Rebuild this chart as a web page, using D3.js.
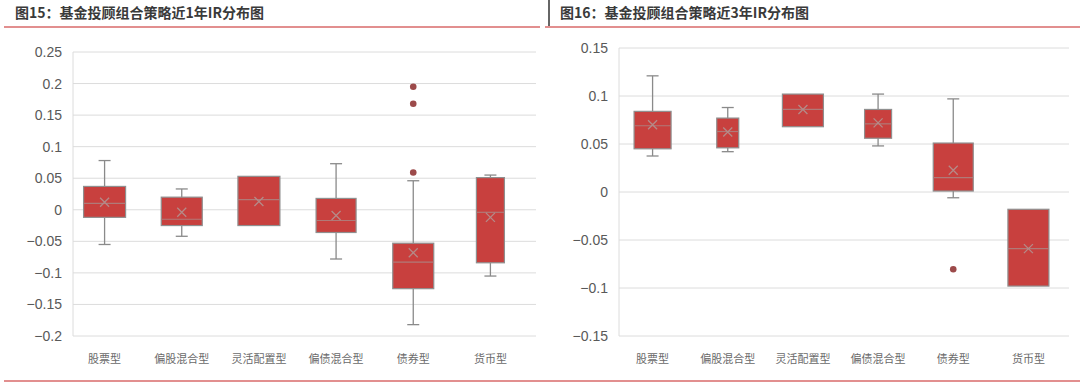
<!DOCTYPE html>
<html lang="zh">
<head>
<meta charset="UTF-8">
<title>IR分布图</title>
<script src="https://cdn.jsdelivr.net/npm/d3@7/dist/d3.min.js"></script>
<style>
  body { margin: 0; background: #fff; }
  svg { display: block; font-family: "Liberation Sans", "Noto Sans CJK SC", sans-serif; }
</style>
</head>
<body>
<svg id="mainsvg" width="1080" height="383"></svg>
<script>
// categories
const categories = ["股票型", "偏股混合型", "灵活配置型", "偏债混合型", "债券型", "货币型"];

// 近1年: [whisker low, q1, median, q3, whisker high], mean, outliers
const box1y = [
  [-0.055, -0.012, 0.010, 0.037, 0.078],
  [-0.042, -0.025, -0.015, 0.020, 0.033],
  [-0.025, -0.025, 0.016, 0.053, 0.053],
  [-0.078, -0.036, -0.017, 0.018, 0.073],
  [-0.182, -0.125, -0.083, -0.053, 0.046],
  [-0.105, -0.084, -0.004, 0.051, 0.055]
];
const mean1y = [0.012, -0.004, 0.013, -0.009, -0.068, -0.012];
const outliers1y = [[], [], [], [], [0.195, 0.168, 0.059], []];
const ticks1y = [-0.2, -0.15, -0.1, -0.05, 0, 0.05, 0.1, 0.15, 0.2, 0.25];

// 近3年
const box3y = [
  [0.0375, 0.045, 0.069, 0.084, 0.121],
  [0.042, 0.046, 0.063, 0.077, 0.088],
  [0.068, 0.068, 0.086, 0.102, 0.102],
  [0.048, 0.056, 0.071, 0.086, 0.102],
  [-0.006, 0.001, 0.015, 0.051, 0.097],
  [-0.098, -0.098, -0.059, -0.018, -0.018]
];
const mean3y = [0.070, 0.0625, 0.086, 0.072, 0.0226, -0.059];
const outliers3y = [[], [], [], [], [-0.0805], []];
const ticks3y = [-0.15, -0.1, -0.05, 0, 0.05, 0.1, 0.15];

const svg = d3.select("#mainsvg");
const red = "#c8403e";
const lineRed = "#d96a6a";

// 标题与分隔线
svg.append("text").attr("x", 15).attr("y", 18)
  .attr("font-family", "Noto Sans CJK SC").attr("font-size", 14).attr("font-weight", 700)
  .attr("fill", "#3a3a3a").text("图15：基金投顾组合策略近1年IR分布图");
svg.append("text").attr("x", 560).attr("y", 18)
  .attr("font-family", "Noto Sans CJK SC").attr("font-size", 14).attr("font-weight", 700)
  .attr("fill", "#3a3a3a").text("图16：基金投顾组合策略近3年IR分布图");
svg.append("line").attr("x1", 549).attr("x2", 549).attr("y1", 0).attr("y2", 26)
  .attr("stroke", "#333").attr("stroke-width", 1.5);
svg.append("line").attr("x1", 4).attr("x2", 540).attr("y1", 27).attr("y2", 27)
  .attr("stroke", lineRed).attr("stroke-width", 1.5);
svg.append("line").attr("x1", 545).attr("x2", 1080).attr("y1", 27).attr("y2", 27)
  .attr("stroke", lineRed).attr("stroke-width", 1.5);
svg.append("line").attr("x1", 4).attr("x2", 1080).attr("y1", 381).attr("y2", 381)
  .attr("stroke", lineRed).attr("stroke-width", 1.5);

function drawChart(opt) {
  const g = svg.append("g");
  const y = d3.scaleLinear().domain(d3.extent(opt.ticks)).range([opt.bottom, opt.top]);
  const x = d3.scaleBand().domain(categories).range(opt.band).padding(0);

  // 网格
  g.selectAll(".grid").data(opt.ticks).join("line")
    .attr("x1", opt.left).attr("x2", opt.right)
    .attr("y1", d => y(d)).attr("y2", d => y(d))
    .attr("stroke", "#dcdcdc").attr("stroke-width", 1);
  g.append("line").attr("x1", opt.left).attr("x2", opt.left)
    .attr("y1", opt.top).attr("y2", opt.bottom)
    .attr("stroke", "#dcdcdc");

  const yAxis = d3.axisLeft(y).tickValues(opt.ticks).tickSize(0).tickPadding(0)
    .tickFormat(d => d3.format("")(+d.toFixed(2)).replace("-", "−"));
  const ya = g.append("g").attr("transform", `translate(${opt.labelX},0)`).call(yAxis);
  ya.select(".domain").remove();
  ya.selectAll("text").attr("font-size", 14).attr("fill", "#595959")
    .attr("font-family", "Liberation Sans, sans-serif");

  categories.forEach((c, i) => {
    const cx = x(c) + x.bandwidth() / 2;
    const w = opt.widths[i];
    const [lo, q1, med, q3, hi] = opt.data[i];
    const cap = 12;
    // whiskers
    g.append("line").attr("x1", cx).attr("x2", cx).attr("y1", y(hi)).attr("y2", y(q3))
      .attr("stroke", "#8a8a8a").attr("stroke-width", 1.3);
    g.append("line").attr("x1", cx).attr("x2", cx).attr("y1", y(q1)).attr("y2", y(lo))
      .attr("stroke", "#8a8a8a").attr("stroke-width", 1.3);
    if (hi > q3) g.append("line").attr("x1", cx - cap / 2).attr("x2", cx + cap / 2)
      .attr("y1", y(hi)).attr("y2", y(hi)).attr("stroke", "#8a8a8a").attr("stroke-width", 1.3);
    if (lo < q1) g.append("line").attr("x1", cx - cap / 2).attr("x2", cx + cap / 2)
      .attr("y1", y(lo)).attr("y2", y(lo)).attr("stroke", "#8a8a8a").attr("stroke-width", 1.3);
    // box
    g.append("rect").attr("x", cx - w / 2).attr("width", w)
      .attr("y", y(q3)).attr("height", y(q1) - y(q3))
      .attr("fill", red).attr("stroke", "#8f8f8f").attr("stroke-width", 1.2);
    // median
    g.append("line").attr("x1", cx - w / 2).attr("x2", cx + w / 2)
      .attr("y1", y(med)).attr("y2", y(med)).attr("stroke", "#b07a78").attr("stroke-width", 1.2);
    // mean X
    const m = y(opt.mean[i]), s = 4.5;
    g.append("path").attr("d", `M${cx - s},${m - s}L${cx + s},${m + s}M${cx - s},${m + s}L${cx + s},${m - s}`)
      .attr("stroke", "#b58a88").attr("stroke-width", 1.3).attr("fill", "none");
    // outliers
    g.selectAll(null).data(opt.outliers[i]).join("circle")
      .attr("cx", cx).attr("cy", d => y(d)).attr("r", 3.3).attr("fill", "#9c4a4a");
    // category label
    g.append("text").attr("x", cx).attr("y", opt.bottom + 27).attr("text-anchor", "middle")
      .attr("font-family", "Noto Sans CJK SC").attr("font-size", 11).attr("fill", "#6a6a6a")
      .text(c);
  });
}

drawChart({
  data: box1y, mean: mean1y, outliers: outliers1y, ticks: ticks1y,
  top: 52, bottom: 336, left: 73, right: 536, band: [66, 529], labelX: 62,
  widths: [42, 41, 42, 40, 41, 28]
});
drawChart({
  data: box3y, mean: mean3y, outliers: outliers3y, ticks: ticks3y,
  top: 48, bottom: 336, left: 619, right: 1069, band: [615, 1066], labelX: 608,
  widths: [37, 22, 41, 27, 40, 41]
});
</script>
</body>
</html>
